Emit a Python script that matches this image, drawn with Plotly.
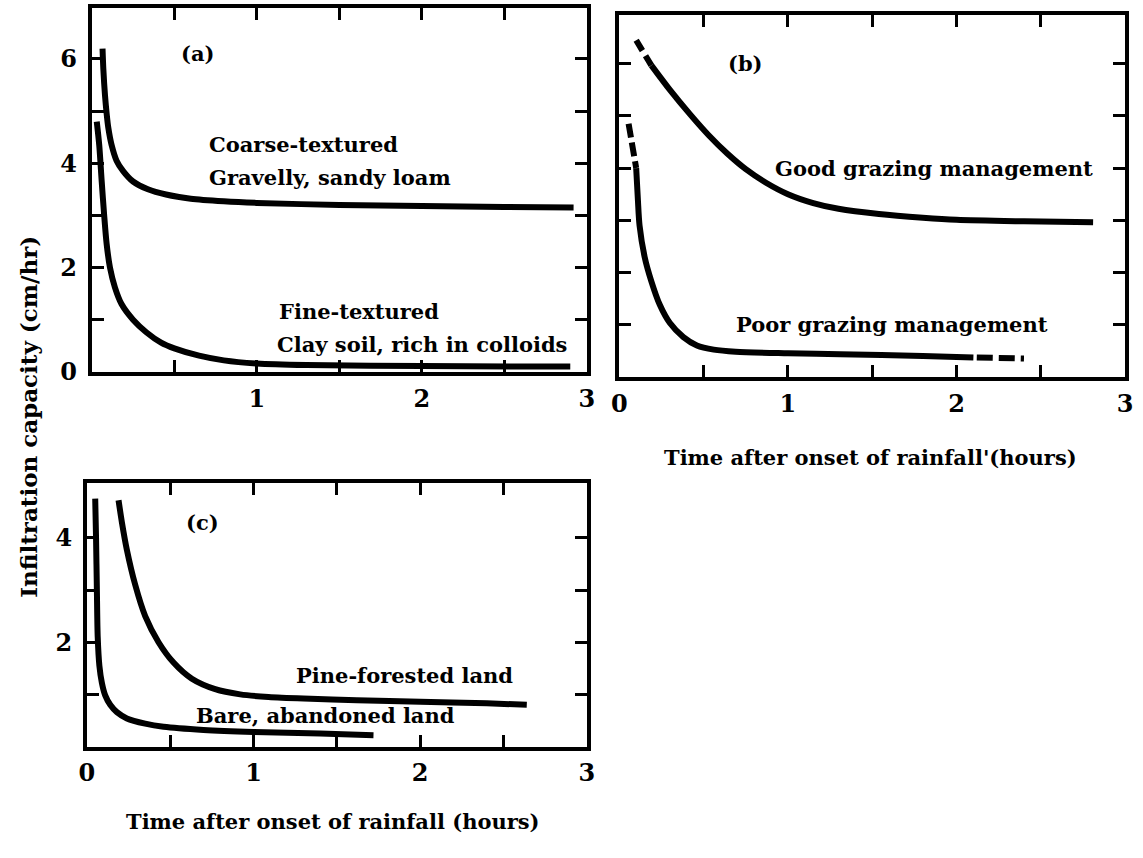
import plotly.graph_objects as go

# ---------------- data ----------------
# Panel (a)
a_coarse_x = [0.065, 0.07, 0.08, 0.09, 0.10, 0.12, 0.15, 0.19, 0.25, 0.34, 0.45, 0.60, 0.80, 1.0, 1.5, 2.0, 2.5, 2.92]
a_coarse_y = [6.20, 5.80, 5.30, 4.95, 4.68, 4.35, 4.05, 3.85, 3.65, 3.50, 3.40, 3.32, 3.27, 3.24, 3.20, 3.18, 3.16, 3.15]
a_fine_x = [0.03, 0.045, 0.06, 0.075, 0.09, 0.11, 0.14, 0.18, 0.25, 0.33, 0.42, 0.50, 0.65, 0.80, 1.0, 1.3, 2.0, 2.9]
a_fine_y = [4.80, 4.35, 3.65, 3.00, 2.45, 2.00, 1.62, 1.30, 1.00, 0.76, 0.56, 0.45, 0.31, 0.22, 0.16, 0.13, 0.11, 0.10]

# Panel (b)
b_good_dash_x = [0.10, 0.19]
b_good_dash_y = [6.45, 5.97]
b_good_x = [0.19, 0.30, 0.42, 0.53, 0.64, 0.75, 0.87, 1.0, 1.15, 1.3, 1.54, 1.8, 2.0, 2.4, 2.81]
b_good_y = [5.97, 5.50, 5.03, 4.63, 4.28, 3.98, 3.72, 3.50, 3.33, 3.22, 3.12, 3.05, 3.01, 2.98, 2.96]
b_poor_dash_x = [0.055, 0.10]
b_poor_dash_y = [4.85, 4.00]
b_poor_x = [0.10, 0.11, 0.12, 0.15, 0.19, 0.24, 0.30, 0.38, 0.46, 0.56, 0.69, 1.0, 1.31, 1.8, 2.1]
b_poor_y = [4.00, 3.40, 2.90, 2.30, 1.83, 1.38, 1.03, 0.76, 0.60, 0.52, 0.48, 0.45, 0.43, 0.40, 0.37]
b_poor_tail_x = [2.12, 2.40]
b_poor_tail_y = [0.37, 0.35]

# Panel (c)
c_bare_x = [0.05, 0.055, 0.06, 0.065, 0.075, 0.09, 0.11, 0.14, 0.18, 0.24, 0.35, 0.46, 0.70, 1.0, 1.4, 1.72]
c_bare_y = [4.75, 4.00, 3.00, 2.10, 1.55, 1.22, 0.98, 0.80, 0.66, 0.54, 0.44, 0.38, 0.32, 0.28, 0.25, 0.22]
c_pine_x = [0.19, 0.21, 0.24, 0.29, 0.35, 0.43, 0.52, 0.63, 0.77, 0.92, 1.09, 1.3, 1.62, 2.0, 2.4, 2.64]
c_pine_y = [4.72, 4.30, 3.77, 3.10, 2.50, 2.00, 1.61, 1.30, 1.10, 1.00, 0.95, 0.92, 0.89, 0.86, 0.83, 0.80]

# tick values / labels
x_tickvals = [0, 0.5, 1, 1.5, 2, 2.5, 3]
x_ticktext_a = ["", "", "1", "", "2", "", "3"]
x_ticktext_bc = ["0", "", "1", "", "2", "", "3"]
y_tickvals_ab = [0, 1, 2, 3, 4, 5, 6]
y_ticktext_a = ["0", "", "2", "", "4", "", "6"]
y_ticktext_b = ["", "", "", "", "", "", ""]
y_tickvals_c = [0, 1, 2, 3, 4]
y_ticktext_c = ["", "", "2", "", "4"]

# ---------------- figure ----------------
W, H = 1143, 858
FONT = "DejaVu Serif"
LW = 6

fig = go.Figure()

def line(x, y, xa, ya, dash="solid"):
    fig.add_trace(go.Scatter(x=x, y=y, mode="lines", xaxis=xa, yaxis=ya,
                             line=dict(color="black", width=LW, dash=dash, shape="spline", smoothing=0.8),
                             showlegend=False, hoverinfo="skip"))

line(a_coarse_x, a_coarse_y, "x", "y")
line(a_fine_x, a_fine_y, "x", "y")
line(b_good_dash_x, b_good_dash_y, "x2", "y2", dash="12px,6px")
line(b_good_x, b_good_y, "x2", "y2")
line(b_poor_dash_x, b_poor_dash_y, "x2", "y2", dash="14px,5px")
line(b_poor_x, b_poor_y, "x2", "y2")
line(b_poor_tail_x, b_poor_tail_y, "x2", "y2", dash="16px,6px")
line(c_bare_x, c_bare_y, "x3", "y3")
line(c_pine_x, c_pine_y, "x3", "y3")

def px_x(p):
    return p / W

def px_y(p):
    return 1 - p / H

tickfont = dict(family=FONT, size=24, color="black", weight="bold")

def xaxis(dom, anchor, ticktext):
    return dict(domain=dom, anchor=anchor, range=[0, 3], showgrid=False, zeroline=False,
                showline=True, linecolor="black", linewidth=4, mirror="ticks",
                ticks="inside", ticklen=12, tickwidth=3, tickcolor="black",
                tickvals=x_tickvals, ticktext=ticktext, tickfont=tickfont,
                ticklabelstandoff=2, fixedrange=True)

def yaxis(dom, anchor, rng, tickvals, ticktext):
    return dict(domain=dom, anchor=anchor, range=rng, showgrid=False, zeroline=False,
                showline=True, linecolor="black", linewidth=4, mirror="ticks",
                ticks="inside", ticklen=12, tickwidth=3, tickcolor="black",
                tickvals=tickvals, ticktext=ticktext, tickfont=tickfont,
                ticklabelstandoff=6, fixedrange=True)

fig.update_layout(
    width=W, height=H, autosize=False,
    margin=dict(l=0, r=0, t=0, b=0),
    paper_bgcolor="white", plot_bgcolor="white",
    xaxis=xaxis([px_x(85), px_x(587)], "y", x_ticktext_a),
    yaxis=yaxis([px_y(378), px_y(8)], "x", [0, 6.98], y_tickvals_ab, y_ticktext_a),
    xaxis2=xaxis([px_x(620), px_x(1133)], "y2", x_ticktext_bc),
    yaxis2=yaxis([px_y(383), px_y(15)], "x2", [0, 6.94], y_tickvals_ab, y_ticktext_b),
    xaxis3=xaxis([px_x(80), px_x(587)], "y3", x_ticktext_bc),
    yaxis3=yaxis([px_y(759), px_y(491)], "x3", [0, 5.05], y_tickvals_c, y_ticktext_c),
)

def note(text, x, y, xref, yref, xanchor="left", size=21, **kw):
    fig.add_annotation(text=text, x=x, y=y, xref=xref, yref=yref, showarrow=False,
                       xanchor=xanchor, yanchor="middle",
                       font=dict(family=FONT, size=size, color="black", weight="bold"), **kw)

# panel (a)
note("(a)", 0.53, 6.1, "x", "y")
note("Coarse-textured", 0.70, 4.36, "x", "y")
note("Gravelly, sandy loam", 0.70, 3.72, "x", "y")
note("Fine-textured", 1.12, 1.16, "x", "y")
note("Clay soil, rich in colloids", 1.11, 0.52, "x", "y")
# panel (b)
note("(b)", 0.63, 6.0, "x2", "y2")
note("Good grazing management", 0.91, 4.0, "x2", "y2")
note("Poor grazing management", 0.68, 1.0, "x2", "y2")
# panel (c)
note("(c)", 0.58, 4.3, "x3", "y3")
note("Pine-forested land", 1.24, 1.36, "x3", "y3")
note("Bare, abandoned land", 0.64, 0.60, "x3", "y3")

# axis titles
note("Infiltration capacity (cm/hr)", px_x(20), px_y(424), "paper", "paper", xanchor="center", size=23, textangle=-90)
note("Time after onset of rainfall'(hours)", px_x(875), px_y(465), "paper", "paper", xanchor="center")
note("Time after onset of rainfall (hours)", px_x(330), px_y(835), "paper", "paper", xanchor="center")

fig.write_html("out.html")
